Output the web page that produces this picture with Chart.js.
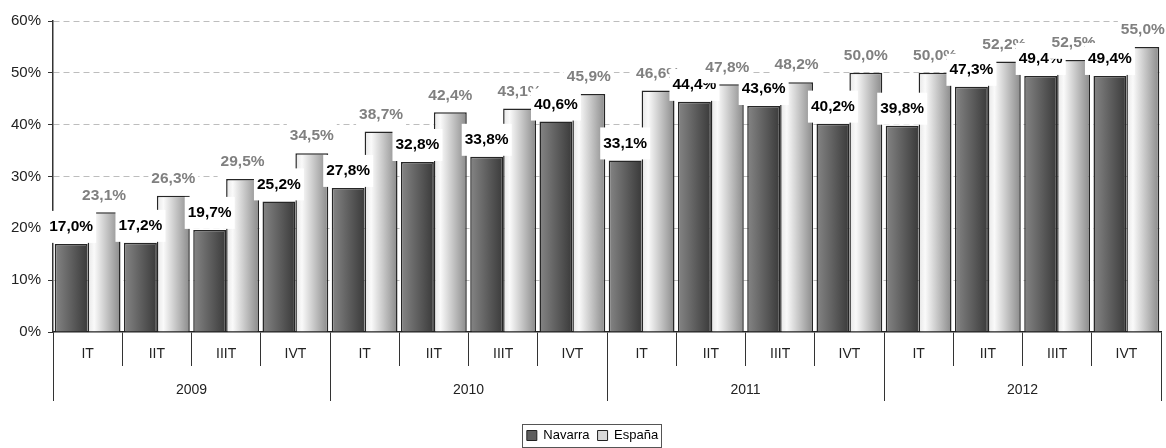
<!DOCTYPE html>
<html lang="es">
  <head>
    <meta charset="UTF-8" />
    <title>Navarra vs España</title>
    <style>
      body {
        margin: 0;
        background-color: #ffffff;
      }
      #wrap {
        width: 1166px;
        height: 448px;
      }
    </style>
  </head>
  <body>
    <div id="wrap"><canvas id="barChart"></canvas></div>

    <script src="https://cdn.jsdelivr.net/npm/chart.js"></script>
    <script>
      var quarters = ["IT", "IIT", "IIIT", "IVT", "IT", "IIT", "IIIT", "IVT",
                      "IT", "IIT", "IIIT", "IVT", "IT", "IIT", "IIIT", "IVT"];
      var years = ["2009", "2010", "2011", "2012"];
      var navarra = [17.0, 17.2, 19.7, 25.2, 27.8, 32.8, 33.8, 40.6,
                     33.1, 44.4, 43.6, 40.2, 39.8, 47.3, 49.4, 49.4];
      var espana = [23.1, 26.3, 29.5, 34.5, 38.7, 42.4, 43.1, 45.9,
                    46.6, 47.8, 48.2, 50.0, 50.0, 52.2, 52.5, 55.0];
      var seriesNames = ["Navarra", "España"];

      var FONT = "Arial, 'Liberation Sans', sans-serif";
      var CAT_PCT = 0.95;

      // horizontal gradient across each bar
      function barFill(c) {
        var dark = c.datasetIndex === 0;
        var chart = c.chart;
        var xs = chart.scales.x;
        if (!xs || c.type !== "data" || !xs.width) {
          return dark ? "#5a5a5a" : "#d0d0d0";
        }
        var bw = (xs.width / quarters.length) * CAT_PCT / 2;
        var mid = xs.getPixelForValue(c.dataIndex);
        var x0 = dark ? mid - bw : mid;
        var g = chart.ctx.createLinearGradient(x0, 0, x0 + bw, 0);
        if (dark) {
          g.addColorStop(0, "#858585");
          g.addColorStop(1, "#3a3a3a");
        } else {
          g.addColorStop(0, "#e6e6e6");
          g.addColorStop(0.2, "#fafafa");
          g.addColorStop(1, "#8a8a8a");
        }
        return g;
      }

      function fmt(v) {
        return v.toFixed(1).replace(".", ",") + "%";
      }

      // value labels on white boxes, category by category (Navarra, then España)
      var valueLabels = {
        id: "valueLabels",
        afterDatasetsDraw: function (chart) {
          var ctx = chart.ctx;
          var sets = [
            { values: navarra, color: "#000000" },
            { values: espana, color: "#808080" },
          ];
          ctx.save();
          ctx.font = "bold 15.5px " + FONT;
          ctx.textAlign = "center";
          ctx.textBaseline = "middle";
          for (var j = 0; j < quarters.length; j++) {
            sets.forEach(function (s, i) {
              var bar = chart.getDatasetMeta(i).data[j];
              var txt = fmt(s.values[j]);
              var w = ctx.measureText(txt).width + 6;
              var h = 32;
              var bottom = bar.y - 1;
              ctx.fillStyle = "#ffffff";
              ctx.fillRect(bar.x - w / 2, bottom - h, w, h);
              ctx.fillStyle = s.color;
              ctx.fillText(txt, bar.x, bottom - h / 2);
            });
          }
          ctx.restore();
        },
      };

      // shift legend a bit and frame it
      var legendFrame = {
        id: "legendFrame",
        afterLayout: function (chart) {
          chart.legend.left += 12;
          chart.legend.right += 12;
          chart.legend.top += 4;
          chart.legend.bottom += 4;
        },
        afterDraw: function (chart) {
          var boxes = chart.legend.legendHitBoxes;
          if (!boxes || !boxes.length) return;
          var first = boxes[0];
          var last = boxes[boxes.length - 1];
          var top = Math.round(first.top - 5) + 0.5;
          var bottom = Math.min(Math.round(first.top + first.height + 6), 447) + 0.5;
          var ctx = chart.ctx;
          ctx.save();
          ctx.strokeStyle = "#555555";
          ctx.lineWidth = 1;
          ctx.strokeRect(
            Math.round(first.left - 5) + 0.5,
            top,
            Math.round(last.left + last.width - first.left + 8),
            bottom - top
          );
          ctx.restore();
        },
      };

      var ctx = document.getElementById("barChart").getContext("2d");
      var barChart = new Chart(ctx, {
        type: "bar",
        data: {
          labels: quarters,
          datasets: [
            {
              label: seriesNames[0],
              data: navarra,
              backgroundColor: barFill,
              borderColor: "#262626",
              borderWidth: 1.5,
            },
            {
              label: seriesNames[1],
              data: espana,
              backgroundColor: barFill,
              borderColor: "#262626",
              borderWidth: 1.5,
            },
          ],
        },
        plugins: [valueLabels, legendFrame],
        options: {
          responsive: true,
          maintainAspectRatio: false,
          animation: false,
          datasets: {
            bar: { categoryPercentage: CAT_PCT, barPercentage: 1.0 },
          },
          layout: { padding: { left: 0, right: 5, top: 21, bottom: 0 } },
          scales: {
            x: {
              position: "bottom",
              weight: 0,
              offset: true,
              grid: {
                offset: true,
                drawOnChartArea: false,
                tickLength: 34,
                color: "#333333",
              },
              border: { color: "#222222", width: 1.5 },
              ticks: {
                autoSkip: false,
                maxRotation: 0,
                padding: -20,
                color: "#222222",
                font: { family: FONT, size: 14 },
              },
              afterFit: function (scale) {
                scale.height = 34;
              },
            },
            x2: {
              type: "category",
              labels: years,
              position: "bottom",
              weight: 1,
              offset: true,
              grid: {
                offset: true,
                drawOnChartArea: false,
                tickLength: 35,
                color: "#333333",
              },
              border: { display: false },
              ticks: {
                autoSkip: false,
                maxRotation: 0,
                padding: -19,
                color: "#222222",
                font: { family: FONT, size: 14 },
              },
              afterFit: function (scale) {
                scale.height = 51;
              },
            },
            y: {
              min: 0,
              max: 60,
              ticks: {
                stepSize: 10,
                padding: 7,
                color: "#222222",
                font: { family: FONT, size: 15 },
                callback: function (value) {
                  return value + "%";
                },
              },
              grid: {
                color: function (c) {
                  return c.tick && c.tick.value === 0 ? "rgba(0,0,0,0)" : "#bdbdbd";
                },
                tickColor: "#333333",
                tickLength: 5,
              },
              border: { color: "#333333", width: 1.5, dash: [6, 4] },
              afterFit: function (scale) {
                scale.width = 53;
              },
            },
          },
          plugins: {
            tooltip: { enabled: false },
            legend: {
              position: "bottom",
              labels: {
                boxWidth: 10,
                boxHeight: 10,
                padding: 8,
                color: "#000000",
                font: { family: FONT, size: 13 },
                generateLabels: function (chart) {
                  return seriesNames.map(function (name, i) {
                    return {
                      text: name,
                      fillStyle: i === 0 ? "#5e5e5e" : "#d8d8d8",
                      strokeStyle: "#222222",
                      lineWidth: 1,
                      datasetIndex: i,
                    };
                  });
                },
              },
            },
          },
        },
      });
    </script>
  </body>
</html>
